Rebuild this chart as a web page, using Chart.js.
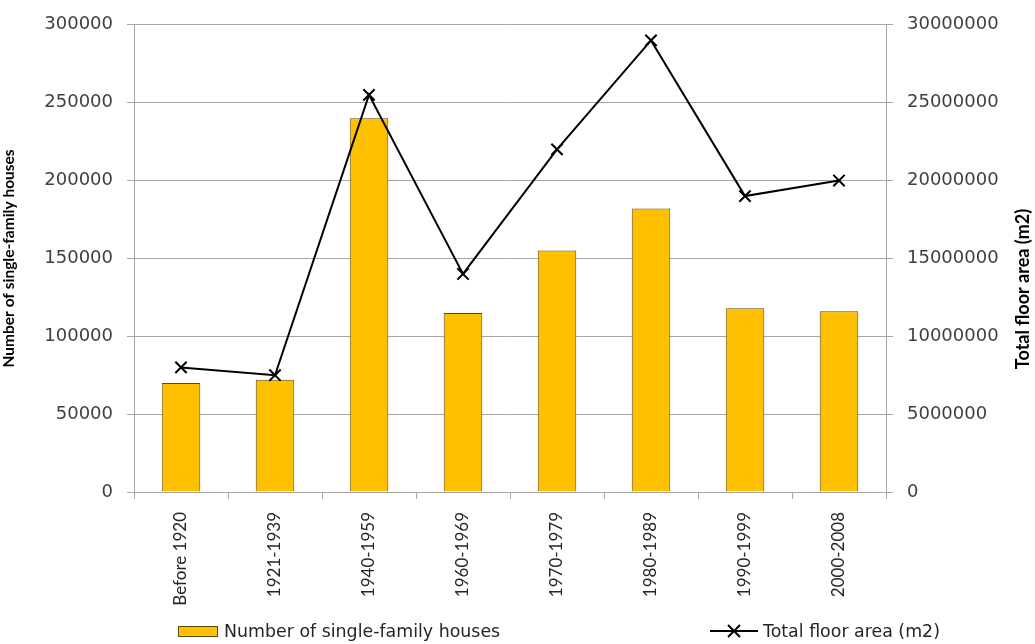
<!DOCTYPE html>
<html>
<head>
<meta charset="utf-8">
<script src="https://cdn.jsdelivr.net/npm/chart.js@4"></script>
<style>
  html, body { margin: 0; padding: 0; background: #fff; }
  #wrap { position: relative; width: 1035px; height: 644px; }
  #legend { position: absolute; left: 0; top: 621px; width: 1035px; height: 24px;
    font-family: "DejaVu Sans"; font-size: 17.4px; color: #262626; }
  .item { position: absolute; top: 0; display: flex; align-items: center; white-space: nowrap; }
  .box { width: 38px; height: 9px; background: #FFC000; border: 1px solid #5a4a10; margin-right: 6px; }
</style>
</head>
<body>
<div id="wrap">
  <canvas id="graph" width="1035" height="644"></canvas>
  <div id="legend">
    <div class="item" style="left:178px"><span class="box"></span><span>Number of single-family houses</span></div>
    <div class="item" style="left:710px">
      <svg width="50" height="20" style="margin-right:3px"><line x1="0" y1="10" x2="48" y2="10" stroke="#000" stroke-width="2"/><line x1="18" y1="4" x2="30" y2="16" stroke="#000" stroke-width="2"/><line x1="30" y1="4" x2="18" y2="16" stroke="#000" stroke-width="2"/></svg>
      <span>Total floor area (m2)</span>
    </div>
  </div>
</div>
<script>
var periods = ['Before 1920', '1921-1939', '1940-1959', '1960-1969', '1970-1979', '1980-1989', '1990-1999', '2000-2008'];
var houses = [70000, 72000, 240000, 115000, 155000, 182000, 118000, 116000];
var floorArea = [8000000, 7500000, 25500000, 14000000, 22000000, 29000000, 19000000, 20000000];
var leftTicks = [0, 50000, 100000, 150000, 200000, 250000, 300000];
var rightTicks = [0, 5000000, 10000000, 15000000, 20000000, 25000000, 30000000];
var leftTitle = 'Number of single-family houses';
var rightTitle = 'Total floor area (m2)';

var g = document.getElementById('graph').getContext('2d');
var tickFont = { family: 'DejaVu Sans', size: 18 };
var gridCol = '#a6a6a6';
var plain = function (v) { return String(v); };

// right axis title reads bottom to top in the original, so draw it by hand
var rightTitlePlugin = {
  id: 'rightTitle',
  afterDraw: function (chart) {
    var c = chart.ctx;
    c.save();
    c.translate(1023, 289);
    c.rotate(-Math.PI / 2);
    c.font = 'bold 18px Lato';
    c.fillStyle = '#000';
    c.textAlign = 'center';
    c.textBaseline = 'middle';
    c.fillText(rightTitle, 0, 0);
    c.restore();
  }
};

var graph = new Chart(g, {
  type: 'bar',
  data: {
    labels: periods,
    datasets: [{
      type: 'line',
      label: 'Total floor area (m2)',
      data: floorArea,
      yAxisID: 'y1',
      borderColor: '#000',
      borderWidth: 2,
      pointStyle: 'crossRot',
      pointRadius: 8,
      pointBorderWidth: 2,
      pointBorderColor: '#000',
      tension: 0,
      order: 0
    }, {
      label: 'Number of single-family houses',
      data: houses,
      yAxisID: 'y',
      backgroundColor: '#FFC000',
      borderColor: '#5a4a10',
      borderWidth: 1,
      barPercentage: 0.41,
      categoryPercentage: 1,
      order: 1
    }]
  },
  plugins: [rightTitlePlugin],
  options: {
    responsive: false,
    animation: false,
    layout: { padding: { left: 0, right: 0, top: 19, bottom: 0 } },
    plugins: { legend: { display: false }, tooltip: { enabled: false } },
    scales: {
      x: {
        offset: true,
        grid: { offset: true, drawOnChartArea: false, drawTicks: true, tickLength: 7, color: gridCol },
        border: { color: gridCol },
        ticks: { minRotation: 90, maxRotation: 90, padding: 13, color: '#262626', font: { family: 'Lato', size: 17 } },
        afterFit: function (s) { s.height = 644 - 19 - 473; }
      },
      y: {
        position: 'left',
        min: 0, max: 300000,
        afterBuildTicks: function (s) { s.ticks = leftTicks.map(function (v) { return { value: v }; }); },
        grid: { color: gridCol, tickLength: 7 },
        border: { color: gridCol },
        ticks: { padding: 14, color: '#404040', font: tickFont, callback: plain },
        title: { display: true, text: leftTitle, color: '#000',
          font: { family: 'Lato', size: 15.5, weight: 'bold' }, padding: { top: 0, bottom: 0 } },
        afterFit: function (s) { s.width = 134; }
      },
      y1: {
        position: 'right',
        min: 0, max: 30000000,
        afterBuildTicks: function (s) { s.ticks = rightTicks.map(function (v) { return { value: v }; }); },
        grid: { drawOnChartArea: false, color: gridCol, tickLength: 7 },
        border: { color: gridCol },
        ticks: { padding: 14, color: '#404040', font: tickFont, callback: plain },
        afterFit: function (s) { s.width = 1035 - 886; }
      }
    }
  }
});
</script>
</body>
</html>
